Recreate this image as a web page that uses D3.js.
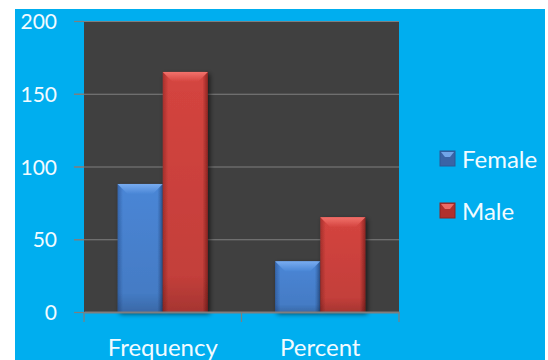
<!DOCTYPE html>
<html>
<head>
<meta charset="utf-8">
<script src="https://cdn.jsdelivr.net/npm/d3@7"></script>
<style>
  html, body { margin: 0; padding: 0; background: #ffffff; }
  svg { display: block; }
</style>
</head>
<body>
<svg id="chart" width="548" height="360"></svg>
<script>
// Chart data
const categories = ["Frequency", "Percent"];
const seriesNames = ["Female", "Male"];
const femaleValues = [88, 34.8];
const maleValues = [165, 65.2];
const yTicks = [0, 50, 100, 150, 200];

const seriesValues = { Female: femaleValues, Male: maleValues };
const palette = {
  Female: { mid: "#4a86d6", edge: "#3566ad", top: "#78acf0", dark: "#2d5896", legend: "#3a64a6" },
  Male:   { mid: "#d4443f", edge: "#a8302c", top: "#f2726c", dark: "#8e2522", legend: "#b0302c" }
};

const svg = d3.select("#chart");
const W = 548, H = 360;

// Blue chart background
svg.append("rect").attr("x", 15).attr("y", 9).attr("width", 530).attr("height", H - 9).attr("fill", "#00aeef");

const plot = { left: 84, right: 399, top: 21, bottom: 312 };

const defs = svg.append("defs");
seriesNames.forEach(s => {
  const c = palette[s];
  const g = defs.append("linearGradient").attr("id", "body-" + s).attr("x1", "0").attr("x2", "1").attr("y1", "0").attr("y2", "0");
  g.append("stop").attr("offset", "0").attr("stop-color", c.edge);
  g.append("stop").attr("offset", "0.12").attr("stop-color", c.mid);
  g.append("stop").attr("offset", "0.88").attr("stop-color", c.mid);
  g.append("stop").attr("offset", "1").attr("stop-color", c.dark);
  const gv = defs.append("linearGradient").attr("id", "shade-" + s).attr("x1", "0").attr("x2", "0").attr("y1", "0").attr("y2", "1");
  gv.append("stop").attr("offset", "0").attr("stop-color", "#000").attr("stop-opacity", 0);
  gv.append("stop").attr("offset", "0.85").attr("stop-color", "#000").attr("stop-opacity", 0.08);
  gv.append("stop").attr("offset", "1").attr("stop-color", "#000").attr("stop-opacity", 0.22);
  const gt = defs.append("linearGradient").attr("id", "top-" + s).attr("x1", "0").attr("x2", "0").attr("y1", "0").attr("y2", "1");
  gt.append("stop").attr("offset", "0").attr("stop-color", c.top);
  gt.append("stop").attr("offset", "1").attr("stop-color", c.mid);
});
const shadow = defs.append("filter").attr("id", "barShadow").attr("x", "-20%").attr("y", "-10%").attr("width", "150%").attr("height", "130%");
shadow.append("feGaussianBlur").attr("in", "SourceAlpha").attr("stdDeviation", 2.5).attr("result", "b");
shadow.append("feOffset").attr("in", "b").attr("dx", 2).attr("dy", 2).attr("result", "o");
shadow.append("feComponentTransfer").attr("in", "o").attr("result", "s")
  .append("feFuncA").attr("type", "linear").attr("slope", 0.6);
const merge = shadow.append("feMerge");
merge.append("feMergeNode").attr("in", "s");
merge.append("feMergeNode").attr("in", "SourceGraphic");

// Plot area
svg.append("rect").attr("x", plot.left).attr("y", plot.top)
  .attr("width", plot.right - plot.left).attr("height", plot.bottom - plot.top).attr("fill", "#404040");

const y = d3.scaleLinear().domain([0, 200]).range([plot.bottom, plot.top]);
const x0 = d3.scaleBand().domain(categories).range([plot.left, plot.right]).paddingInner(0).paddingOuter(0);
const x1 = d3.scaleBand().domain(seriesNames).range([0, x0.bandwidth()]).paddingInner(0).paddingOuter(0.744);

// Gridlines
svg.append("g").selectAll("line").data(yTicks.filter(t => t > 0)).join("line")
  .attr("x1", plot.left - 10).attr("x2", plot.right)
  .attr("y1", d => y(d) + 0.5).attr("y2", d => y(d) + 0.5)
  .attr("stroke", "#7f7f7f").attr("stroke-width", 1.2);

// Bars with a bevelled top
const font = "Lato, 'Open Sans', sans-serif";
const groups = svg.append("g").selectAll("g").data(categories).join("g")
  .attr("transform", d => `translate(${x0(d)},0)`);

groups.each(function(cat, i) {
  const g = d3.select(this);
  seriesNames.forEach(s => {
    const v = seriesValues[s][i];
    const bx = x1(s), bw = x1.bandwidth();
    const by = y(v), bh = y(0) - y(v);
    const bar = g.append("g").attr("filter", "url(#barShadow)");
    bar.append("rect").attr("x", bx).attr("y", by).attr("width", bw).attr("height", bh).attr("fill", `url(#body-${s})`);
    bar.append("rect").attr("x", bx).attr("y", by).attr("width", bw).attr("height", bh).attr("fill", `url(#shade-${s})`);
    const b = 10;
    bar.append("path")
      .attr("d", `M${bx},${by}L${bx + bw},${by}L${bx + bw - b},${by + b}L${bx + b},${by + b}Z`)
      .attr("fill", `url(#top-${s})`);
  });
});

// Axes
const yAxis = d3.axisLeft(y).tickValues(yTicks).tickSize(10).tickPadding(17);
const gy = svg.append("g").attr("transform", `translate(${plot.left},0)`).call(yAxis);
gy.select(".domain").remove();
gy.selectAll(".tick line").attr("stroke", "#7f7f7f").attr("stroke-width", 1.2);
gy.selectAll(".tick text").attr("fill", "#f2fbff").attr("font-family", font).attr("font-size", 21).attr("dy", "0.36em");

const xAxis = d3.axisBottom(x0).tickSize(0).tickPadding(0);
const gx = svg.append("g").attr("transform", `translate(0,${plot.bottom})`).call(xAxis);
gx.select(".domain").attr("stroke", "#7f7f7f").attr("stroke-width", 2);
gx.selectAll(".tick text").attr("fill", "#f2fbff").attr("font-family", font).attr("font-size", 24).attr("y", 44).attr("dy", 0);
// Category separators
const seps = [plot.left, x0(categories[1]), plot.right];
svg.append("g").selectAll("line").data(seps).join("line")
  .attr("x1", d => d).attr("x2", d => d).attr("y1", plot.bottom).attr("y2", plot.bottom + 10)
  .attr("stroke", "#7f7f7f").attr("stroke-width", 1.2);

// Legend
const legend = svg.append("g").selectAll("g").data(seriesNames).join("g")
  .attr("transform", (d, i) => `translate(440,${151 + i * 52})`);
legend.append("rect").attr("width", 15).attr("height", 15).attr("fill", d => palette[d].legend)
  .attr("stroke", d => palette[d].dark).attr("stroke-width", 1);
legend.append("path").attr("d", "M1,1L14,1L10,6L5,6Z").attr("fill", d => palette[d].top).attr("opacity", 0.9);
legend.append("text").attr("x", 22).attr("y", 17).attr("fill", "#f2fbff")
  .attr("font-family", font).attr("font-size", 24).text(d => d);
</script>
</body>
</html>
